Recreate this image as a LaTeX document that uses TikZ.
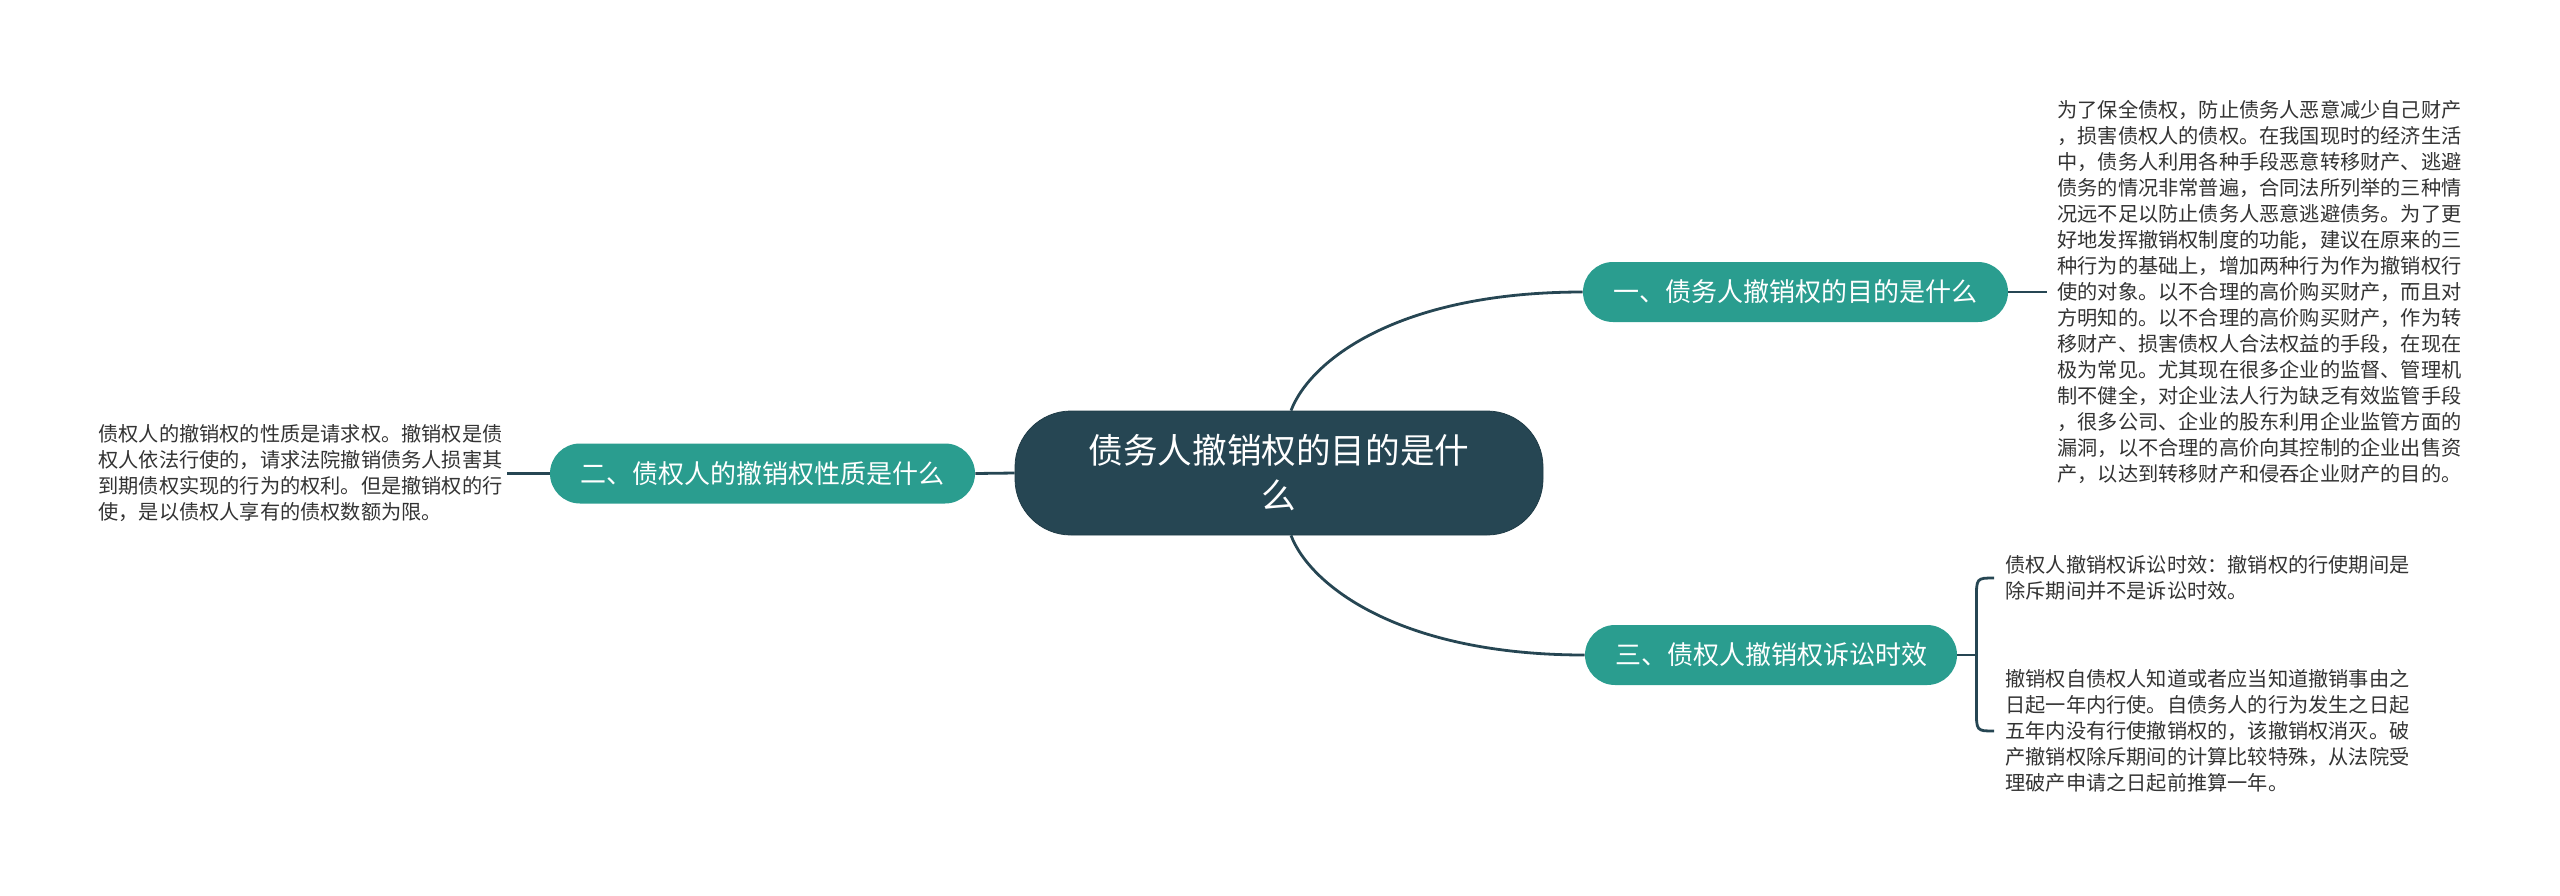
\documentclass[tikz,border=0pt]{standalone}
\usepackage{fontspec}
\setmainfont{Noto Sans CJK SC}
\definecolor{dk}{HTML}{264653}
\definecolor{tl}{HTML}{2A9D8F}
\definecolor{tx}{HTML}{333333}
\begin{document}
\begin{tikzpicture}[x=0.5pt,y=-0.5pt,
 root/.style={fill=dk, draw=dk!85!black, rounded corners=28pt, minimum width=264pt, minimum height=62pt, inner sep=0pt, text=white, align=center, font=\fontsize{17.3}{22.5}\selectfont},
 topic/.style={fill=tl, rounded corners=15pt, minimum height=30pt, inner sep=0pt, text=white, font=\fontsize{13}{16}\selectfont},
 leaf/.style={anchor=west, inner sep=0pt, text=tx, align=left, font=\fontsize{10.1}{13}\selectfont},
 link/.style={draw=dk, line width=1.4pt}]
\useasboundingbox (0,0) rectangle (2560,895);
\node[root] (c) at (1279,473) {债务人撤销权的目的是什\\么};
\node[topic, minimum width=212.5pt] (t1) at (1795.5,292) {一、债务人撤销权的目的是什么};
\node[topic, minimum width=212.5pt] (t2) at (762.5,473.5) {二、债权人的撤销权性质是什么};
\node[topic, minimum width=186pt] (t3) at (1771,655) {三、债权人撤销权诉讼时效};
\node[leaf] (l1) at (2057,292) {为了保全债权，防止债务人恶意减少自己财产\\，损害债权人的债权。在我国现时的经济生活\\中，债务人利用各种手段恶意转移财产、逃避\\债务的情况非常普遍，合同法所列举的三种情\\况远不足以防止债务人恶意逃避债务。为了更\\好地发挥撤销权制度的功能，建议在原来的三\\种行为的基础上，增加两种行为作为撤销权行\\使的对象。以不合理的高价购买财产，而且对\\方明知的。以不合理的高价购买财产，作为转\\移财产、损害债权人合法权益的手段，在现在\\极为常见。尤其现在很多企业的监督、管理机\\制不健全，对企业法人行为缺乏有效监管手段\\，很多公司、企业的股东利用企业监管方面的\\漏洞，以不合理的高价向其控制的企业出售资\\产，以达到转移财产和侵吞企业财产的目的。};
\node[leaf] (l2) at (98,473) {债权人的撤销权的性质是请求权。撤销权是债\\权人依法行使的，请求法院撤销债务人损害其\\到期债权实现的行为的权利。但是撤销权的行\\使，是以债权人享有的债权数额为限。};
\node[leaf] (l3) at (2005,578) {债权人撤销权诉讼时效：撤销权的行使期间是\\除斥期间并不是诉讼时效。};
\node[leaf] (l4) at (2005,731) {撤销权自债权人知道或者应当知道撤销事由之\\日起一年内行使。自债务人的行为发生之日起\\五年内没有行使撤销权的，该撤销权消灭。破\\产撤销权除斥期间的计算比较特殊，从法院受\\理破产申请之日起前推算一年。};
\draw[link] (c.west) -- (t2.east);
\draw[link] (t2.west) -- ([xshift=2pt]t2.west -| l2.east);
\draw[link] ([xshift=6pt]c.north) .. controls +(19,-50) and +(-185,0) .. (t1.west);
\draw[link] ([xshift=6pt]c.south) .. controls +(19,50) and +(-185,0) .. (t3.west);
\draw[link] (t1.east) -- ([xshift=-5pt]t1.east -| l1.west);
\draw[link] (t3.east) -- ++(19,0) coordinate (b);
\coordinate (bt) at ([xshift=-5.5pt]l3.west);
\coordinate (bb) at ([xshift=-5.5pt]l4.west);
\draw[link] (bt) .. controls (bt -| b) .. ([yshift=-11pt]bt -| b) -- ([yshift=11pt]bb -| b) .. controls (bb -| b) .. (bb);
\end{tikzpicture}
\end{document}
